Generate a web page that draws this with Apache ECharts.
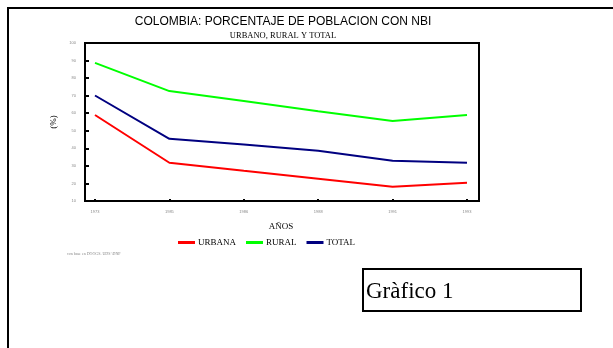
<!DOCTYPE html>
<html>
<head>
<meta charset="utf-8">
<script src="https://cdn.jsdelivr.net/npm/echarts@6/dist/echarts.min.js"></script>
<style>
  html, body { margin: 0; padding: 0; background: #fff; }
  #chart { width: 613px; height: 348px; }
</style>
</head>
<body>
<div id="chart"></div>
<script>
// datos
var years = ['1973', '1985', '1986', '1988', '1991', '1993'];
var urbana = [59, 31.8, 27.2, 22.7, 18.1, 20.4];
var rural = [88.7, 72.6, 66.9, 61.1, 55.6, 59];
var total = [70.1, 45.4, 42.2, 38.6, 32.9, 31.8];

var serif = 'Liberation Serif, DejaVu Serif, serif';
var narrow = 'Liberation Sans Narrow, Liberation Sans, Arial, sans-serif';

var chart = echarts.init(document.getElementById('chart'));

function lineSerie(name, data, color) {
  return {
    name: name,
    type: 'line',
    data: data,
    symbol: 'none',
    lineStyle: { color: color, width: 2 },
    itemStyle: { color: color }
  };
}

chart.setOption({
  animation: false,
  backgroundColor: '#fff',
  title: [{
    text: 'COLOMBIA: PORCENTAJE DE POBLACION CON NBI',
    left: 278, textAlign: 'center', top: 11,
    textStyle: { fontFamily: narrow, fontSize: 12, fontWeight: 'normal', color: '#000' },
    subtext: 'URBANO, RURAL Y TOTAL',
    subtextStyle: { fontFamily: serif, fontSize: 8.5, color: '#000' },
    itemGap: 3
  }, {
    text: 'con base en DOOGS. UDS \\DNP',
    left: 62, top: 247,
    textStyle: { fontFamily: serif, fontSize: 4, fontWeight: 'normal', color: '#888' }
  }],
  legend: {
    left: 173, top: 233,
    itemWidth: 17, itemHeight: 3, itemGap: 10,
    icon: 'rect',
    textStyle: { fontFamily: serif, fontSize: 9, color: '#000', padding: [0, 0, 0, -2] },
    data: ['URBANA', 'RURAL', 'TOTAL']
  },
  grid: {
    left: 95, right: 146, top: 43, bottom: 147
  },
  xAxis: {
    type: 'category',
    data: years,
    boundaryGap: false,
    axisLine: { show: false },
    axisTick: { show: true, inside: true, length: 2, alignWithLabel: true, lineStyle: { color: '#000', width: 2 } },
    axisLabel: { fontSize: 4, color: '#888', margin: 9 },
    splitLine: { show: false },
    name: 'AÑOS',
    nameLocation: 'middle',
    nameGap: 21,
    nameTextStyle: { fontFamily: serif, fontSize: 9, color: '#000' }
  },
  yAxis: {
    type: 'value',
    min: 10, max: 100, interval: 10,
    offset: 10,
    axisLine: { show: false },
    axisTick: { show: true, inside: true, length: 4, lineStyle: { color: '#000', width: 2 } },
    axisLabel: { fontSize: 4, color: '#888', margin: 9 },
    splitLine: { show: false },
    name: '(%)',
    nameLocation: 'middle',
    nameRotate: 90,
    nameGap: 21,
    nameTextStyle: { fontFamily: serif, fontSize: 9, color: '#000' }
  },
  graphic: [
    // marco exterior
    { type: 'polyline', shape: { points: [[8, 348], [8, 8], [613, 8]] }, style: { stroke: '#000', lineWidth: 2, fill: null } },
    // caja del area de trazado
    { type: 'rect', shape: { x: 85, y: 43, width: 394, height: 158 }, style: { stroke: '#000', lineWidth: 2, fill: null } },
    // caja Gràfico 1
    { type: 'rect', shape: { x: 363, y: 269, width: 218, height: 42 }, style: { stroke: '#000', lineWidth: 2, fill: '#fff' } },
    { type: 'text', left: 366, top: 280, style: { text: 'Gràfico 1', font: '23px ' + serif, fill: '#000' } }
  ],
  series: [
    lineSerie('URBANA', urbana, '#ff0000'),
    lineSerie('RURAL', rural, '#00ff00'),
    lineSerie('TOTAL', total, '#000080')
  ]
});
</script>
</body>
</html>
